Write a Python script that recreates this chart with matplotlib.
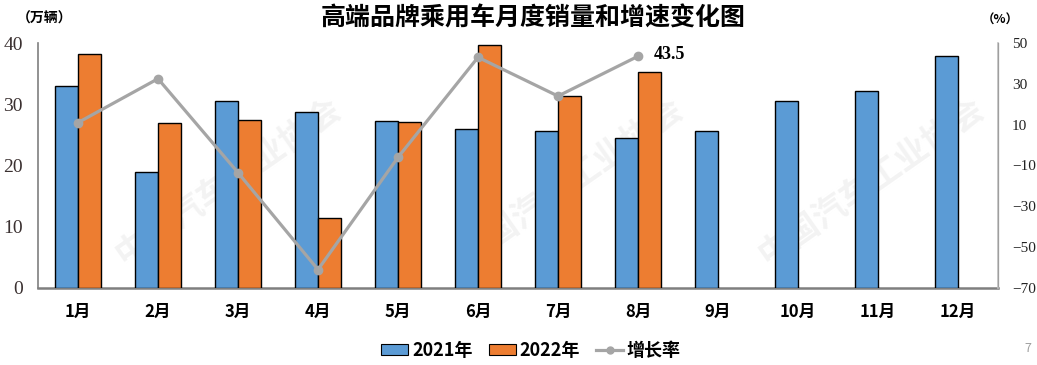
import matplotlib
matplotlib.use("Agg")
import matplotlib.pyplot as plt
from matplotlib.lines import Line2D
from matplotlib.patches import Patch
import numpy as np

plt.rcParams['font.family'] = ['Noto Sans CJK SC', 'DejaVu Sans']

months = ['1月', '2月', '3月', '4月', '5月', '6月', '7月', '8月', '9月', '10月', '11月', '12月']
sales_2021 = [32.9, 18.9, 30.6, 28.8, 27.3, 25.9, 25.6, 24.5, 25.6, 30.5, 32.1, 37.9]
sales_2022 = [38.2, 26.9, 27.4, 11.4, 27.1, 39.6, 31.3, 35.2]
growth = [11.0, 32.5, -13.5, -61.0, -6.0, 43.0, 24.0, 43.5]
left_ticks = [0, 10, 20, 30, 40]
right_ticks = [-70, -50, -30, -10, 10, 30, 50]

W, H = 1037, 365
fig = plt.figure(figsize=(W / 100, H / 100), dpi=100)
ax = fig.add_axes([38 / W, 1 - 288 / H, 960 / W, 245 / H])
ax2 = ax.twinx()

# faint watermark
for (wx, wy) in [(0.22, 0.50), (0.55, 0.50), (0.84, 0.50)]:
    fig.text(wx, wy, '中国汽车工业协会', rotation=35, fontsize=24, fontweight='bold',
             color='#f3f3f3', ha='center', va='center', zorder=0)

x = np.arange(len(months))
bw = 0.284
ax.bar(x - bw / 2, sales_2021, bw, color='#5b9bd5', edgecolor='black', linewidth=1.0, zorder=3)
x22 = np.arange(len(sales_2022))
ax.bar(x22 + bw / 2, sales_2022, bw, color='#ed7d31', edgecolor='black', linewidth=1.0, zorder=3)

ax2.plot(x22, growth, color='#a5a5a5', linewidth=2.3, marker='o', markersize=6,
         markerfacecolor='#a5a5a5', markeredgecolor='#a5a5a5', zorder=4)
ax2.annotate(f'{growth[-1]}', (x22[-1], growth[-1]), xytext=(11, 1), textcoords='offset points',
             va='center', ha='left', fontsize=13, fontweight='bold',
             fontfamily='Liberation Serif', color='black')

ax.set_xlim(-0.5, len(months) - 0.5)
ax.set_ylim(0, 40)
ax2.set_ylim(-70, 50)
ax.set_yticks(left_ticks)
ax2.set_yticks(right_ticks)
ax.set_yticklabels([str(t) for t in left_ticks], fontfamily='Liberation Serif', fontsize=14, color='#3a3030')
ax2.set_yticklabels([str(t).replace('-', '\u2212') for t in right_ticks], fontfamily='Liberation Serif',
                    fontsize=11, color='#222222')
ax.set_xticks(x)
ax.set_xticklabels(months, fontsize=12, fontweight='bold')

ax.tick_params(axis='y', length=0, pad=11)
ax2.tick_params(axis='y', length=0, pad=10)
ax.tick_params(axis='x', length=0, pad=11)

for a in (ax, ax2):
    a.spines['top'].set_visible(False)
ax.spines['left'].set_color('#7f7f7f')
ax.spines['left'].set_linewidth(1.2)
ax.spines['bottom'].set_color('#7f7f7f')
ax.spines['bottom'].set_linewidth(1.8)
ax2.spines['left'].set_visible(False)
ax2.spines['bottom'].set_visible(False)
ax2.spines['right'].set_color('#bfbfbf')
ax2.spines['right'].set_linewidth(1.2)
ax.patch.set_visible(False)
ax.set_zorder(1)
ax2.set_zorder(2)

fig.text(533 / W, 1 - 18 / H, '高端品牌乘用车月度销量和增速变化图', ha='center', va='center',
         fontsize=18, fontweight='bold')
fig.text(45 / W, 1 - 19 / H, '（万辆）', ha='center', va='center', fontsize=10, fontweight='bold')
fig.text(1000 / W, 1 - 20 / H, '（%）', ha='center', va='center', fontsize=9, fontweight='bold')
fig.text(1028 / W, 1 - 349 / H, '7', ha='center', va='center', fontsize=9, color='#a0a0a0')

handles = [Patch(facecolor='#5b9bd5', edgecolor='black', linewidth=0.8),
           Patch(facecolor='#ed7d31', edgecolor='black', linewidth=0.8),
           Line2D([0], [0], color='#a5a5a5', linewidth=2.3, marker='o', markersize=5)]
fig.legend(handles, ['2021年', '2022年', '增长率'], loc='center', bbox_to_anchor=(531 / W, 1 - 350 / H),
           ncol=3, frameon=False, prop={'size': 13, 'weight': 'bold'}, handlelength=1.5,
           handleheight=0.55, handletextpad=0.2, columnspacing=0.9)

fig.savefig('out.png', dpi=100)
